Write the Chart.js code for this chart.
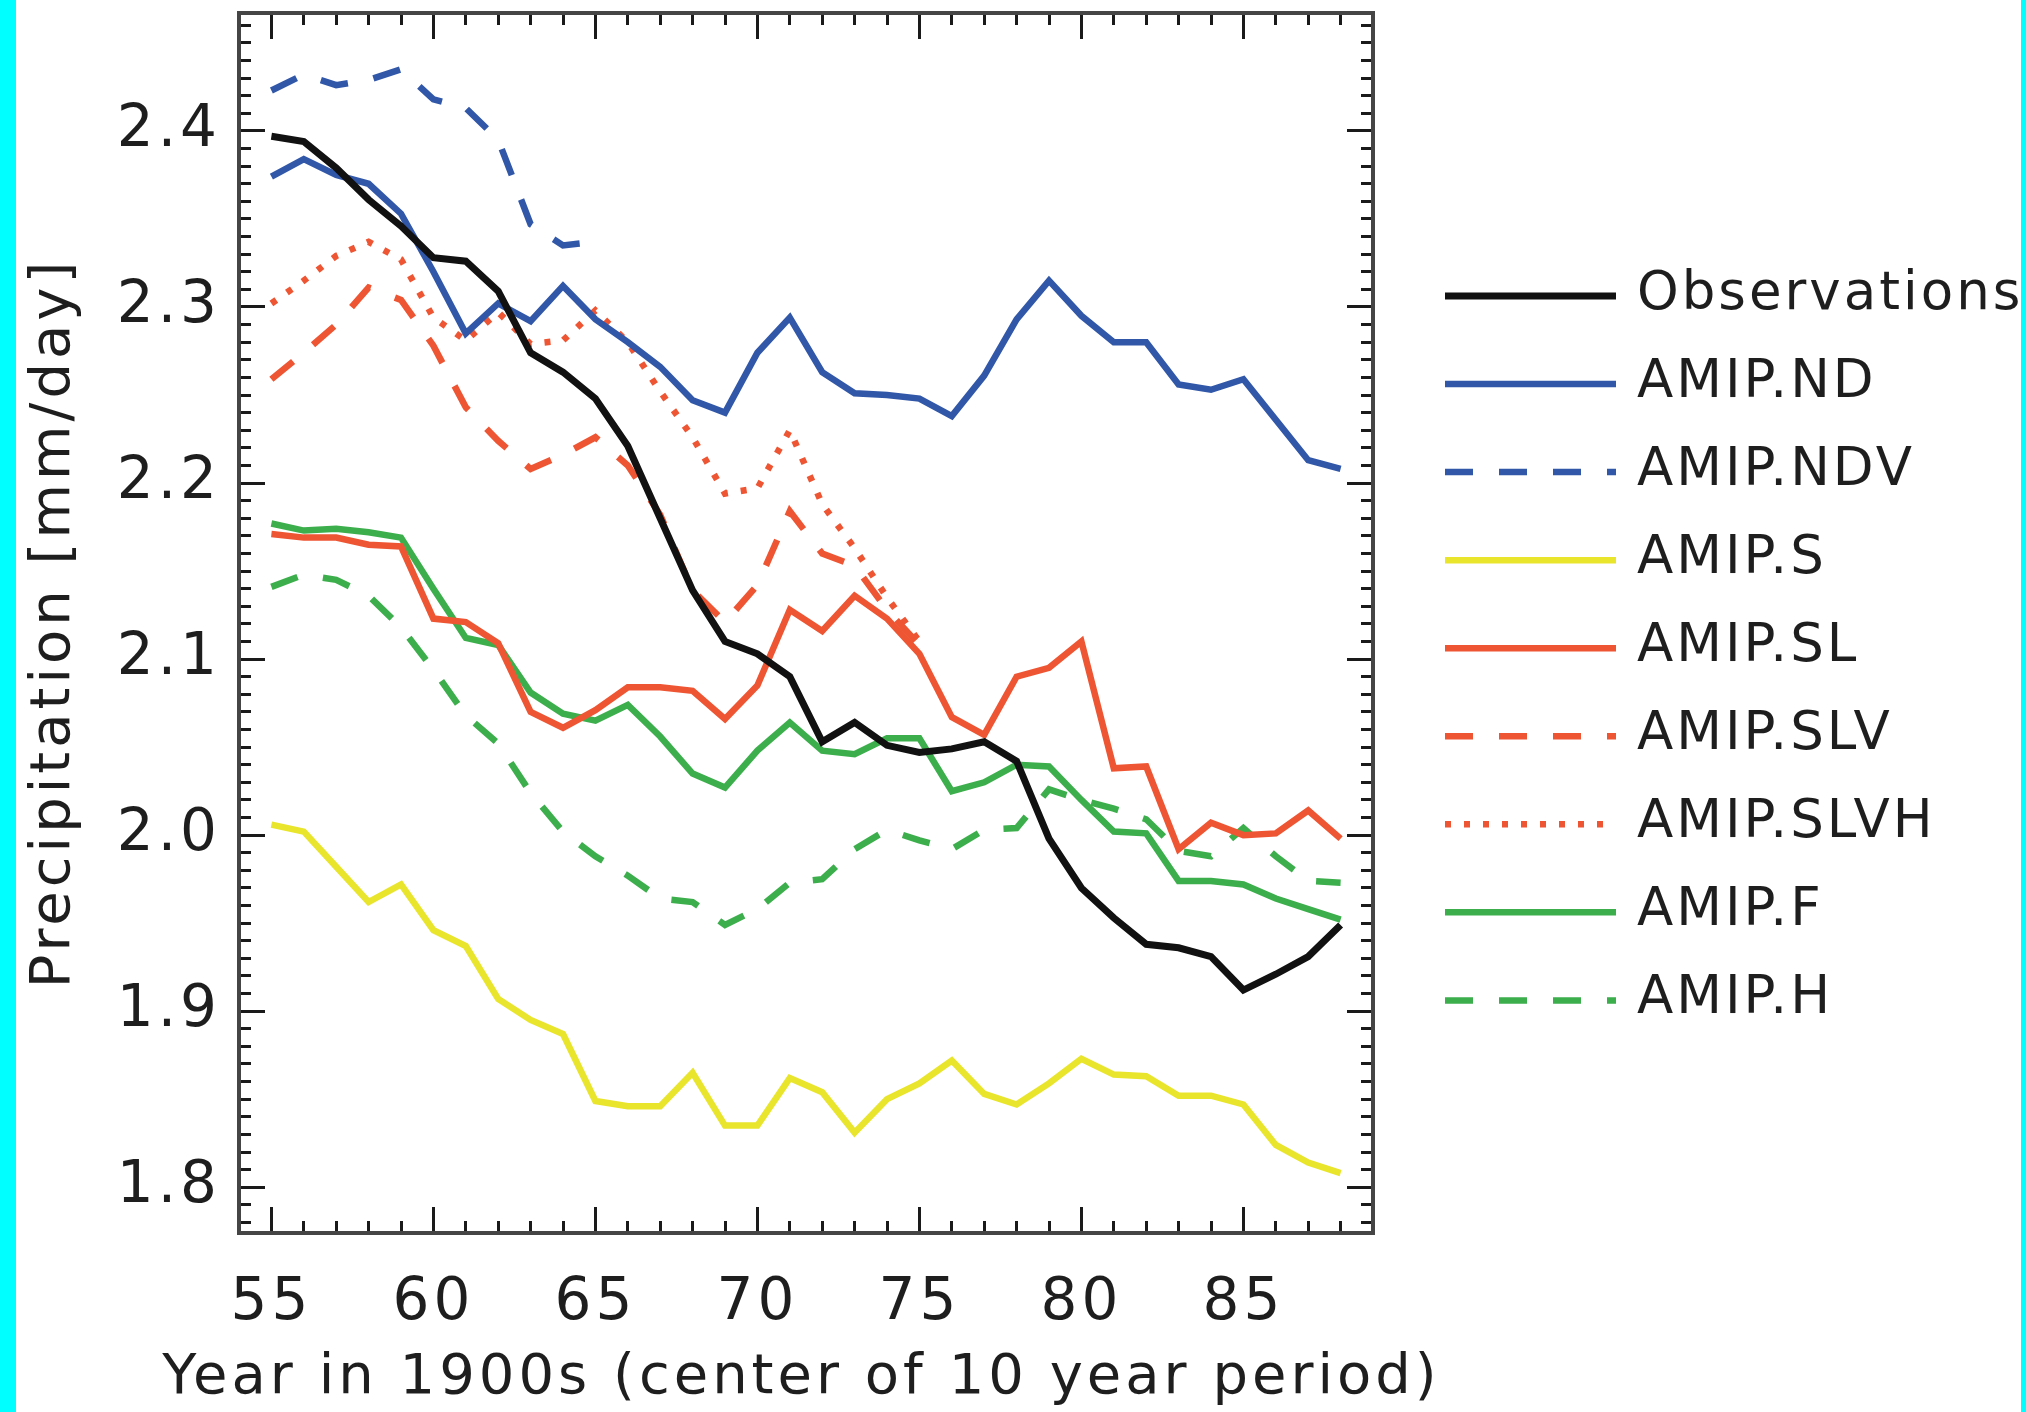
<!DOCTYPE html>
<html>
<head>
<meta charset="utf-8">
<script src="https://cdn.jsdelivr.net/npm/chart.js@4.4.1/dist/chart.umd.min.js"></script>
<style>
  html, body { margin: 0; padding: 0; background: #00ffff; }
  #wrap { position: absolute; left: 16px; top: 0; width: 2005px; height: 1412px; background: #fff; }
</style>
</head>
<body>
<div id="wrap"><canvas id="chart" width="2005" height="1412"></canvas></div>
<script>
const YEARS = [55,56,57,58,59,60,61,62,63,64,65,66,67,68,69,70,71,72,73,74,75,76,77,78,79,80,81,82,83,84,85,86,87,88];

const OBS  = [2.397,2.394,2.379,2.361,2.346,2.328,2.326,2.309,2.274,2.263,2.248,2.221,2.180,2.139,2.110,2.103,2.090,2.053,2.064,2.051,2.047,2.049,2.053,2.042,1.998,1.970,1.953,1.938,1.936,1.931,1.912,1.921,1.931,1.949];
const ND   = [2.374,2.384,2.375,2.370,2.353,2.320,2.285,2.302,2.292,2.312,2.293,2.280,2.266,2.247,2.240,2.274,2.294,2.263,2.251,2.250,2.248,2.238,2.261,2.293,2.315,2.295,2.280,2.280,2.256,2.253,2.259,2.236,2.213,2.208];
const NDV  = [2.423,2.432,2.426,2.429,2.435,2.418,2.413,2.395,2.347,2.335,2.337];
const S    = [2.006,2.002,1.982,1.962,1.972,1.946,1.937,1.907,1.895,1.887,1.849,1.846,1.846,1.865,1.835,1.835,1.862,1.854,1.831,1.850,1.859,1.872,1.853,1.847,1.859,1.873,1.864,1.863,1.852,1.852,1.847,1.824,1.814,1.808];
const SL   = [2.171,2.169,2.169,2.165,2.164,2.123,2.121,2.109,2.070,2.061,2.071,2.084,2.084,2.082,2.066,2.085,2.128,2.116,2.136,2.123,2.103,2.067,2.057,2.090,2.095,2.110,2.038,2.039,1.992,2.007,2.000,2.001,2.014,1.998];
const SLV  = [2.259,2.274,2.290,2.311,2.304,2.278,2.243,2.224,2.208,2.216,2.226,2.210,2.182,2.139,2.121,2.142,2.184,2.160,2.153,2.128,2.108];
const SLVH = [2.302,2.315,2.329,2.337,2.327,2.294,2.281,2.297,2.279,2.281,2.298,2.280,2.252,2.226,2.194,2.197,2.230,2.188,2.163,2.135,2.110];
const F    = [2.177,2.173,2.174,2.172,2.169,2.140,2.112,2.108,2.081,2.069,2.065,2.074,2.056,2.035,2.027,2.048,2.064,2.048,2.046,2.055,2.055,2.025,2.030,2.040,2.039,2.020,2.002,2.001,1.974,1.974,1.972,1.964,1.958,1.952];
const H    = [2.141,2.148,2.145,2.136,2.118,2.094,2.068,2.052,2.024,2.002,1.988,1.977,1.964,1.962,1.949,1.958,1.973,1.975,1.992,2.003,1.997,1.992,2.003,2.004,2.026,2.020,2.015,2.009,1.991,1.988,2.004,1.988,1.974,1.973];

const BLACK = '#111111', BLUE = '#3157a8', YELLOW = '#e9e52c', RED = '#ee5533', GREEN = '#3caf4c';
const DASH = [28, 26], DOT = [6, 13];

const pts = (vals) => vals.map((v, i) => ({ x: YEARS[i], y: v }));

const series = [
  { label: 'Observations', data: OBS,  color: BLACK,  width: 7,   dash: [] },
  { label: 'AMIP.ND',      data: ND,   color: BLUE,   width: 6.5, dash: [] },
  { label: 'AMIP.NDV',     data: NDV,  color: BLUE,   width: 6.5, dash: DASH },
  { label: 'AMIP.S',       data: S,    color: YELLOW, width: 6.5, dash: [] },
  { label: 'AMIP.SL',      data: SL,   color: RED,    width: 6.5, dash: [] },
  { label: 'AMIP.SLV',     data: SLV,  color: RED,    width: 6.5, dash: DASH },
  { label: 'AMIP.SLVH',    data: SLVH, color: RED,    width: 6.5, dash: DOT },
  { label: 'AMIP.F',       data: F,    color: GREEN,  width: 6.5, dash: [] },
  { label: 'AMIP.H',       data: H,    color: GREEN,  width: 6.5, dash: DASH }
];

const FONT = '"DejaVu Sans", sans-serif';
const INK = '#1e1e1e';
Chart.defaults.font.family = FONT;
Chart.defaults.color = INK;

const isMajorY = (v) => Math.abs(v * 10 - Math.round(v * 10)) < 1e-6;
const isMajorX = (v) => Math.abs(v % 5) < 1e-6;

// IDL style box: ticks point inward, minor ticks half length (cut with a dash)
const frameAxis = (major, inner) => ({
  drawOnChartArea: false,
  tickLength: -26,
  lineWidth: 3,
  tickColor: '#1a1a1a',
  tickBorderDash: (c) => major(c.tick.value) ? [] : (inner ? [0, 14, 14, 200] : [14, 200])
});
const border = { display: true, width: 4, color: '#454545' };

// spaced lettering, closer to the original plot font
const spacing = {
  id: 'spacing',
  beforeDraw(chart) { chart.ctx.letterSpacing = '4px'; }
};

const legendLines = {
  id: 'legendLines',
  afterDraw(chart) {
    const ctx = chart.ctx;
    ctx.save();
    ctx.font = '53px ' + FONT;
    ctx.letterSpacing = '3px';
    ctx.textBaseline = 'alphabetic';
    ctx.textAlign = 'left';
    chart.data.datasets.forEach((ds, i) => {
      const y = 296 + i * 88.05;
      ctx.strokeStyle = ds.borderColor;
      ctx.lineWidth = ds.borderWidth;
      ctx.setLineDash(ds.borderDash || []);
      ctx.beginPath();
      ctx.moveTo(1429, y);
      ctx.lineTo(1600, y);
      ctx.stroke();
      ctx.fillStyle = INK;
      ctx.fillText(ds.label, 1621, y + 13);
    });
    ctx.restore();
  }
};

new Chart(document.getElementById('chart'), {
  type: 'line',
  data: {
    datasets: series.map(s => ({
      label: s.label,
      data: pts(s.data),
      borderColor: s.color,
      backgroundColor: s.color,
      borderWidth: s.width,
      borderDash: s.dash,
      pointRadius: 0,
      tension: 0,
      fill: false
    }))
  },
  options: {
    responsive: false,
    animation: false,
    events: [],
    layout: { padding: { top: 13, right: 434, bottom: 0, left: 0 } },
    plugins: {
      legend: { display: false },
      tooltip: { enabled: false },
      title: {
        display: true,
        position: 'bottom',
        text: 'Year in 1900s (center of 10 year period)',
        font: { size: 56, weight: 'normal' },
        color: INK,
        padding: 0
      }
    },
    scales: {
      x: {
        type: 'linear', position: 'bottom', min: 54, max: 89,
        ticks: {
          stepSize: 1, autoSkip: false, includeBounds: false, maxRotation: 0, minRotation: 0,
          padding: 62, font: { size: 58 }, color: INK,
          callback: (v) => isMajorX(v) ? String(v) : ''
        },
        grid: frameAxis(isMajorX, false),
        border,
        afterFit: (s) => { s.height = 111.8; s.paddingLeft = 0; s.paddingRight = 0; }
      },
      x2: {
        type: 'linear', position: 'top', min: 54, max: 89,
        ticks: { stepSize: 1, autoSkip: false, includeBounds: false, display: false },
        grid: frameAxis(isMajorX, true),
        border,
        afterFit: (s) => { s.height = 0; s.paddingLeft = 0; s.paddingRight = 0; }
      },
      y: {
        type: 'linear', position: 'left', min: 1.774, max: 2.467,
        ticks: {
          stepSize: 0.01, autoSkip: false, includeBounds: false,
          padding: 44, font: { size: 58 }, color: INK,
          callback: (v) => isMajorY(v) ? v.toFixed(1) : ''
        },
        grid: frameAxis(isMajorY, true),
        border,
        title: {
          display: true, text: 'Precipitation [mm/day]',
          font: { size: 56 }, color: INK, padding: { top: 5, bottom: 0 }
        },
        afterFit: (s) => { s.width = 223; s.paddingTop = 0; s.paddingBottom = 0; }
      },
      y2: {
        type: 'linear', position: 'right', min: 1.774, max: 2.467,
        ticks: { stepSize: 0.01, autoSkip: false, includeBounds: false, display: false },
        grid: frameAxis(isMajorY, false),
        border,
        afterFit: (s) => { s.width = 214; s.paddingTop = 0; s.paddingBottom = 0; }
      }
    }
  },
  plugins: [spacing, legendLines]
});
</script>
</body>
</html>
